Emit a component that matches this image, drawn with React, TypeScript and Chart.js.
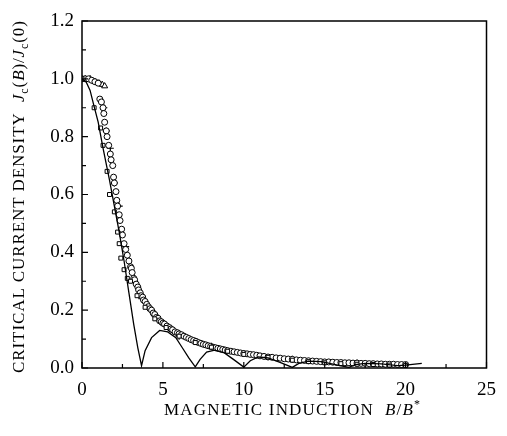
import React, { useEffect, useRef } from "react";
import { Chart, registerables } from "chart.js";
Chart.register(...registerables);

// Experimental data: open circles
const circleX = [0, 0.2, 0.4, 0.6, 0.8, 1.0, 1.1, 1.2, 1.3, 1.35, 1.4, 1.5, 1.55, 1.65, 1.75, 1.8, 1.9, 1.95, 2.0, 2.1, 2.15, 2.2, 2.3, 2.35, 2.45, 2.5, 2.6, 2.7, 2.8, 2.9, 3.0, 3.05, 3.1, 3.2, 3.25, 3.35, 3.45, 3.5, 3.6, 3.65, 3.75, 3.8, 3.9, 4.0, 4.1, 4.2, 4.3, 4.4, 4.5, 4.6, 4.7, 4.8, 4.9, 5.0, 5.1, 5.25, 5.4, 5.5, 5.6, 5.75, 5.9, 6.0, 6.15, 6.3, 6.45, 6.6, 6.75, 6.9, 7.05, 7.2, 7.35, 7.5, 7.65, 7.8, 7.95, 8.1, 8.25, 8.4, 8.55, 8.7, 8.85, 9.0, 9.2, 9.4, 9.6, 9.8, 10.0, 10.2, 10.4, 10.6, 10.8, 11.0, 11.25, 11.5, 11.75, 12.0, 12.25, 12.5, 12.75, 13.0, 13.25, 13.5, 13.75, 14.0, 14.25, 14.5, 14.75, 15.0, 15.25, 15.5, 15.75, 16.0, 16.25, 16.5, 16.75, 17.0, 17.25, 17.5, 17.75, 18.0, 18.25, 18.5, 18.75, 19.0, 19.25, 19.5, 19.75, 20.0];
const circleY = [1.0, 1.0, 1.0, 0.995, 0.99, 0.985, 0.93, 0.92, 0.9, 0.88, 0.85, 0.82, 0.8, 0.77, 0.74, 0.72, 0.7, 0.66, 0.64, 0.61, 0.58, 0.56, 0.53, 0.51, 0.48, 0.46, 0.43, 0.41, 0.39, 0.37, 0.35, 0.345, 0.33, 0.31, 0.305, 0.29, 0.28, 0.27, 0.26, 0.25, 0.245, 0.235, 0.23, 0.22, 0.212, 0.205, 0.2, 0.19, 0.185, 0.175, 0.172, 0.163, 0.16, 0.155, 0.152, 0.145, 0.14, 0.135, 0.132, 0.125, 0.122, 0.118, 0.115, 0.11, 0.106, 0.102, 0.098, 0.095, 0.092, 0.088, 0.085, 0.082, 0.08, 0.077, 0.075, 0.072, 0.07, 0.068, 0.066, 0.064, 0.062, 0.06, 0.058, 0.056, 0.054, 0.052, 0.05, 0.049, 0.047, 0.046, 0.044, 0.042, 0.04, 0.038, 0.037, 0.035, 0.034, 0.032, 0.031, 0.03, 0.028, 0.027, 0.026, 0.025, 0.024, 0.023, 0.022, 0.021, 0.021, 0.02, 0.019, 0.019, 0.018, 0.018, 0.017, 0.017, 0.016, 0.016, 0.015, 0.015, 0.014, 0.014, 0.013, 0.013, 0.013, 0.012, 0.012, 0.012];

// Open squares
const squareX = [0, 0.75, 1.15, 1.3, 1.55, 1.7, 2.0, 2.2, 2.3, 2.4, 2.6, 2.8, 3.0, 3.4, 3.9, 4.5, 5.2, 6.0, 7.0, 8.0, 9.0, 10.0, 11.5, 13.0, 14.0, 15.0, 16.0, 17.0, 18.0, 19.0, 20.0];
const squareY = [1.0, 0.9, 0.83, 0.77, 0.68, 0.6, 0.54, 0.47, 0.43, 0.38, 0.34, 0.31, 0.3, 0.25, 0.21, 0.17, 0.14, 0.11, 0.088, 0.072, 0.058, 0.047, 0.037, 0.027, 0.022, 0.018, 0.015, 0.013, 0.012, 0.01, 0.009];

// Crosses
const crossX = [1.35, 1.5, 1.75, 2.0, 2.3, 2.7, 3.2, 3.7, 4.5, 6.0, 8.0, 10.0, 13.0, 17.0];
const crossY = [0.9, 0.82, 0.76, 0.64, 0.56, 0.42, 0.3, 0.24, 0.18, 0.11, 0.075, 0.05, 0.03, 0.017];

// Triangles
const triX = [0.2, 0.5, 0.8, 1.05, 1.25, 1.4];
const triY = [1.0, 1.0, 0.99, 0.985, 0.98, 0.975];

// Theoretical curve
const lineX = [0, 0.25, 0.5, 0.7, 1.0, 1.3, 1.7, 2.0, 2.3, 2.6, 2.9, 3.2, 3.45, 3.68, 3.9, 4.3, 4.8, 5.3, 5.8, 6.2, 6.6, 7.0, 7.3, 7.7, 8.2, 8.8, 9.4, 10.0, 10.4, 10.9, 11.5, 12.2, 13.0, 13.4, 14.0, 14.8, 15.8, 16.5, 16.9, 17.5, 18.5, 19.5, 20.0, 21.0];
const lineY = [1.0, 0.99, 0.96, 0.915, 0.85, 0.76, 0.65, 0.56, 0.47, 0.37, 0.26, 0.15, 0.07, 0.008, 0.06, 0.105, 0.13, 0.125, 0.105, 0.07, 0.035, 0.004, 0.03, 0.055, 0.062, 0.052, 0.028, 0.003, 0.025, 0.038, 0.035, 0.02, 0.002, 0.016, 0.024, 0.022, 0.01, 0.002, 0.012, 0.016, 0.014, 0.008, 0.01, 0.016];

const xMajor = [0, 5, 10, 15, 20, 25];
const xMinor = [2.5, 7.5, 12.5, 17.5, 22.5];
const yMajor = [0, 0.2, 0.4, 0.6, 0.8, 1.0, 1.2];
const yMinor = [0.1, 0.3, 0.5, 0.7, 0.9, 1.1];

const xTitle = [
  { t: "MAGNETIC INDUCTION  ", s: "normal" },
  { t: "B", s: "italic" },
  { t: "/", s: "normal" },
  { t: "B", s: "italic" },
  { t: "*", s: "sup" },
];
const yTitle = [
  { t: "CRITICAL CURRENT DENSITY  ", s: "normal" },
  { t: "J", s: "italic" },
  { t: "c", s: "sub" },
  { t: "(", s: "normal" },
  { t: "B", s: "italic" },
  { t: ")/", s: "normal" },
  { t: "J", s: "italic" },
  { t: "c", s: "sub" },
  { t: "(0)", s: "normal" },
];

const FONT = "'Liberation Serif', 'Times New Roman', Times, serif";

function segFont(s: string, size: number) {
  if (s === "italic") return `italic ${size}px ${FONT}`;
  if (s === "sub" || s === "sup") return `${Math.round(size * 0.7)}px ${FONT}`;
  return `${size}px ${FONT}`;
}

function drawSegs(ctx: CanvasRenderingContext2D, segs: { t: string; s: string }[], size: number, spacing: number) {
  (ctx as any).letterSpacing = `${spacing}px`;
  let total = 0;
  const widths = segs.map((g) => {
    ctx.font = segFont(g.s, size);
    const w = ctx.measureText(g.t).width;
    total += w;
    return w;
  });
  total -= spacing;
  let x = -total / 2;
  ctx.textBaseline = "alphabetic";
  ctx.textAlign = "left";
  segs.forEach((g, i) => {
    ctx.font = segFont(g.s, size);
    let dy = 0;
    if (g.s === "sub") dy = size * 0.25;
    if (g.s === "sup") dy = -size * 0.4;
    ctx.fillText(g.t, x, dy);
    x += widths[i];
  });
  (ctx as any).letterSpacing = "0px";
}

const framePlugin = {
  id: "frame",
  afterDraw(chart: any) {
    const { ctx, chartArea: a, scales } = chart;
    const xs = scales.x;
    const ys = scales.y;
    ctx.save();
    ctx.strokeStyle = "#000";
    ctx.lineWidth = 1.5;
    ctx.strokeRect(a.left, a.top, a.right - a.left, a.bottom - a.top);
    ctx.lineWidth = 1.2;
    ctx.beginPath();
    xMajor.forEach((v) => {
      const p = xs.getPixelForValue(v);
      ctx.moveTo(p, a.bottom);
      ctx.lineTo(p, a.bottom - 6);
    });
    xMinor.forEach((v) => {
      const p = xs.getPixelForValue(v);
      ctx.moveTo(p, a.bottom);
      ctx.lineTo(p, a.bottom - 4);
    });
    yMajor.forEach((v) => {
      const p = ys.getPixelForValue(v);
      ctx.moveTo(a.left, p);
      ctx.lineTo(a.left + 6, p);
    });
    yMinor.forEach((v) => {
      const p = ys.getPixelForValue(v);
      ctx.moveTo(a.left, p);
      ctx.lineTo(a.left + 4, p);
    });
    ctx.stroke();

    ctx.fillStyle = "#000";
    ctx.save();
    ctx.translate(292, 415);
    drawSegs(ctx, xTitle, 17, 1.2);
    ctx.restore();
    ctx.save();
    ctx.translate(24, 197);
    ctx.rotate(-Math.PI / 2);
    drawSegs(ctx, yTitle, 17, 0.9);
    ctx.restore();
    ctx.restore();
  },
};

function pts(xs: number[], ys: number[]) {
  return xs.map((x, i) => ({ x, y: ys[i] }));
}

export default function App() {
  const ref = useRef<HTMLCanvasElement | null>(null);
  useEffect(() => {
    if (!ref.current) return;
    let chart: Chart | null = null;
    let cancelled = false;
    const build = () => {
      if (cancelled || !ref.current) return;
      const markerBase = {
        type: "scatter" as const,
        borderColor: "#000",
        backgroundColor: "#fff",
        borderWidth: 1,
        order: 1,
      };
      chart = new Chart(ref.current, {
        type: "scatter",
        data: {
          datasets: [
            {
              type: "line",
              data: pts(lineX, lineY),
              borderColor: "#000",
              borderWidth: 1.3,
              pointRadius: 0,
              tension: 0,
              fill: false,
              order: 0,
            } as any,
            { ...markerBase, data: pts(squareX, squareY), pointStyle: "rect", pointRadius: 2.8 },
            { ...markerBase, data: pts(circleX, circleY), pointStyle: "circle", pointRadius: 3 },
            { ...markerBase, data: pts(triX, triY), pointStyle: "triangle", pointRadius: 3.5 },
            { ...markerBase, data: pts(crossX, crossY), pointStyle: "cross", pointRadius: 3.5, borderWidth: 1.2 },
          ],
        },
        options: {
          animation: false,
          responsive: false,
          events: [],
          layout: { padding: { top: 21, right: 10, left: 0, bottom: 0 } },
          plugins: { legend: { display: false }, tooltip: { enabled: false }, title: { display: false } },
          scales: {
            x: {
              type: "linear",
              min: 0,
              max: 25,
              afterFit: (s: any) => {
                s.height = 68;
              },
              grid: { display: false, drawTicks: false },
              border: { display: false },
              ticks: {
                stepSize: 5,
                padding: 11,
                color: "#000",
                font: { family: FONT, size: 19 },
                maxRotation: 0,
              },
            },
            y: {
              type: "linear",
              min: 0,
              max: 1.2,
              afterFit: (s: any) => {
                s.width = 82;
              },
              grid: { display: false, drawTicks: false },
              border: { display: false },
              ticks: {
                stepSize: 0.2,
                padding: 8,
                color: "#000",
                font: { family: FONT, size: 19 },
                callback: (v: any) => Number(v).toFixed(1),
              },
            },
          },
        },
        plugins: [framePlugin],
      });
    };
    const fs: any = (document as any).fonts;
    if (fs && fs.load) {
      Promise.all([
        fs.load(`19px "Liberation Serif"`),
        fs.load(`italic 17px "Liberation Serif"`),
      ]).then(build, build);
    } else build();
    return () => {
      cancelled = true;
      if (chart) chart.destroy();
    };
  }, []);
  return (
    <div style={{ position: "absolute", left: 0, top: 0, width: 507, height: 436, background: "#fff" }}>
      <canvas ref={ref} width={507} height={436} />
    </div>
  );
}
